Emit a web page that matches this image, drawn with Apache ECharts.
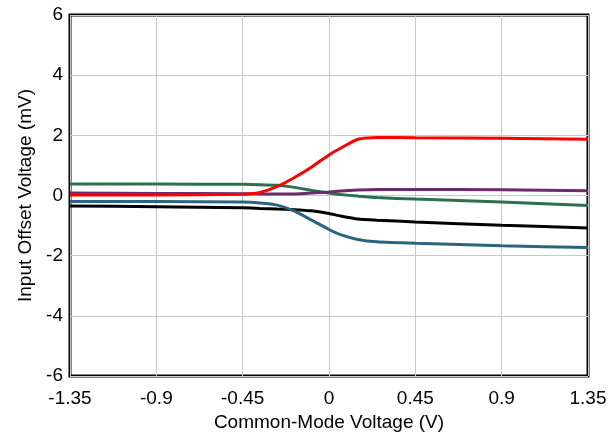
<!DOCTYPE html>
<html><head><meta charset="utf-8">
<script src="https://cdn.jsdelivr.net/npm/echarts@6/dist/echarts.min.js"></script>
<style>html,body{margin:0;padding:0;background:#fff}#c{width:616px;height:434px}</style>
</head><body><div id="c"></div>
<script>
const xVals = [-1.35, -0.9, -0.45, -0.36, -0.27, -0.18, -0.09, 0, 0.06, 0.15, 0.25, 0.45, 0.9, 1.35];
const blackVals = [-0.35, -0.37, -0.41, -0.43, -0.45, -0.47, -0.51, -0.6, -0.68, -0.78, -0.82, -0.88, -0.99, -1.08];
const blueVals = [-0.2, -0.2, -0.22, -0.25, -0.32, -0.52, -0.82, -1.13, -1.3, -1.46, -1.54, -1.59, -1.67, -1.73];
const greenVals = [0.38, 0.38, 0.37, 0.36, 0.34, 0.27, 0.17, 0.08, 0.03, -0.02, -0.07, -0.12, -0.22, -0.33];
const purpleVals = [0.08, 0.07, 0.06, 0.05, 0.05, 0.05, 0.08, 0.12, 0.15, 0.18, 0.2, 0.2, 0.19, 0.16];
const redVals = [0.02, 0.02, 0.04, 0.1, 0.3, 0.6, 0.95, 1.35, 1.57, 1.87, 1.93, 1.92, 1.9, 1.87];
const xTitle = 'Common-Mode Voltage (V)';
const yTitle = 'Input Offset Voltage (mV)';

const font = 'Liberation Sans, Arial, sans-serif';
function mk(vals, color) {
  return {
    type: 'line', data: xVals.map((x, i) => [x, vals[i]]),
    showSymbol: false, smooth: 0.15,
    lineStyle: { color: color, width: 3 }, itemStyle: { color: color }
  };
}
const chart = echarts.init(document.getElementById('c'));
chart.setOption({
  animation: false,
  grid: { left: 70, right: 28, top: 15, bottom: 58, outerBoundsMode: 'none', containLabel: false,
    show: true, borderColor: '#000', borderWidth: 3, backgroundColor: 'transparent' },
  xAxis: {
    type: 'value', min: -1.35, max: 1.35, interval: 0.45,
    name: xTitle, nameLocation: 'middle', nameGap: 34,
    nameTextStyle: { fontFamily: font, fontSize: 19, color: '#000' },
    axisLine: { show: false }, axisTick: { show: false },
    axisLabel: { fontFamily: font, fontSize: 19, color: '#000', margin: 13,
      formatter: v => String(+v.toFixed(2)) },
    splitLine: { show: true, lineStyle: { color: '#c8c8c8', width: 1 } }
  },
  yAxis: {
    type: 'value', min: -6, max: 6, interval: 2,
    name: yTitle, nameLocation: 'middle', nameGap: 30,
    nameTextStyle: { fontFamily: font, fontSize: 19, color: '#000' },
    axisLine: { show: false }, axisTick: { show: false },
    axisLabel: { fontFamily: font, fontSize: 19, color: '#000', margin: 7 },
    splitLine: { show: true, lineStyle: { color: '#c8c8c8', width: 1 } }
  },
  series: [
    mk(blackVals, '#000000'),
    mk(blueVals, '#2b6480'),
    mk(greenVals, '#2c7050'),
    mk(purpleVals, '#6a2c6a'),
    mk(redVals, '#ff0000')
  ]
});
</script></body></html>
